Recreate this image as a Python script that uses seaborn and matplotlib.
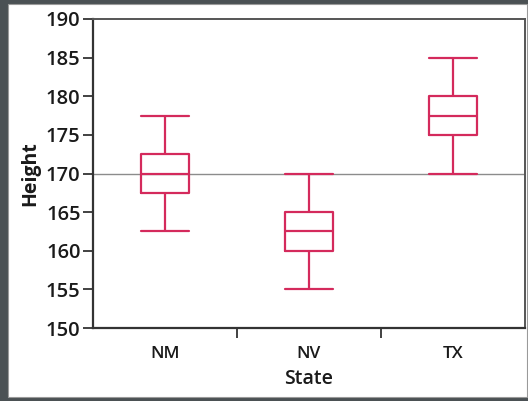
import matplotlib
matplotlib.use("Agg")
import matplotlib.pyplot as plt
import matplotlib.patches as mpatches
import seaborn as sns
import pandas as pd

# Data (five-number summaries)
states = ["NM", "NV", "TX"]
nm_heights = [162.5, 167.5, 170.0, 172.5, 177.5]
nv_heights = [155.0, 160.0, 162.5, 165.0, 170.0]
tx_heights = [170.0, 175.0, 177.5, 180.0, 185.0]
reference_line = 170.0
y_ticks = [150, 155, 160, 165, 170, 175, 180, 185, 190]

df = pd.DataFrame({
    "State": ["NM"] * len(nm_heights) + ["NV"] * len(nv_heights) + ["TX"] * len(tx_heights),
    "Height": nm_heights + nv_heights + tx_heights,
})

sns.set_theme(style="white")
plt.rcParams["font.family"] = ["Open Sans", "DejaVu Sans"]

box_color = "#d42a5c"
text_color = "#1a1a1a"

fig = plt.figure(figsize=(5.28, 4.01), dpi=100)
fig.patch.set_facecolor("#4b5154")
# white panel inside the dark frame
panel = mpatches.Rectangle((8 / 528, 4 / 401), (527 - 8) / 528, (397 - 4) / 401,
                           transform=fig.transFigure, facecolor="white",
                           edgecolor="#9a9a9a", linewidth=0.8, zorder=-10)
fig.add_artist(panel)

ax = fig.add_axes([93 / 528, 1 - 328 / 401, (525 - 93) / 528, (328 - 19) / 401])
ax.set_zorder(5)
ax.set_facecolor("white")

ax.axhline(reference_line, color="#8c8c8c", linewidth=1.0, zorder=1)

sns.boxplot(data=df, x="State", y="Height", order=states, ax=ax,
            fill=False, color=box_color, width=0.33, whis=1.5, linewidth=1.6,
            capwidths=0.33, zorder=3)
for line in ax.lines:
    line.set_solid_joinstyle("round")
for p in ax.patches:
    p.set_joinstyle("round")

ax.set_ylim(150, 190)
ax.set_xlim(-0.5, 2.5)
ax.set_yticks(y_ticks)
ax.set_yticklabels([str(t) for t in y_ticks], fontweight="semibold")

# x ticks at category boundaries, labels at centres
ax.set_xticks([0.5, 1.5])
ax.set_xticklabels([])
ax.set_xticks([0, 1, 2], minor=True)
ax.set_xticklabels(states, minor=True, fontweight="semibold")
ax.tick_params(axis="x", which="minor", length=0, labelsize=12.5, pad=13, colors=text_color)
ax.tick_params(axis="x", which="major", direction="out", length=7, width=1.3, color="#333333")
ax.tick_params(axis="y", direction="out", length=7, width=1.3, color="#333333",
               labelsize=14.5, pad=2, labelcolor=text_color)
ax.tick_params(left=True, bottom=True)

ax.set_xlabel("State", fontsize=14, fontweight="semibold", labelpad=5, color=text_color)
ax.set_ylabel("Height", fontsize=14, fontweight="bold", labelpad=4, color=text_color)

for side in ["left", "bottom"]:
    ax.spines[side].set_color("#333333")
    ax.spines[side].set_linewidth(1.6)
for side in ["top", "right"]:
    ax.spines[side].set_visible(True)
    ax.spines[side].set_color("#555555")
    ax.spines[side].set_linewidth(1.4)

fig.savefig("out.png", dpi=100, facecolor=fig.get_facecolor())
